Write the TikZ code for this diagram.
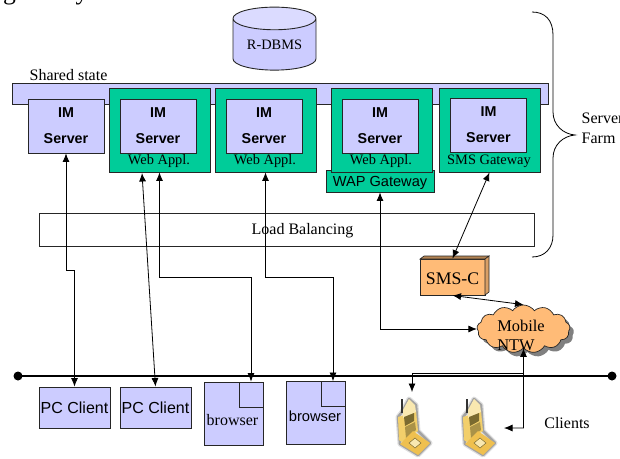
\documentclass[tikz,border=0pt]{standalone}
\usepackage{fontspec}
\setmainfont{Liberation Serif}
\newfontfamily\arialfont{Liberation Sans}
\usetikzlibrary{arrows.meta,shapes.geometric,shapes.symbols,shadows}

\definecolor{lilac}{HTML}{CCCCFF}
\definecolor{teal}{HTML}{00CC99}
\definecolor{peach}{HTML}{FFBB77}
\definecolor{phonebody}{HTML}{F2CF6B}
\definecolor{phonetop}{HTML}{F9E8B0}
\definecolor{phonekeys}{HTML}{7A6A30}
\definecolor{phoneflip}{HTML}{EFC04F}

\tikzset{
  pixbox/.style={draw=black!85,line width=0.9pt,inner sep=0pt,rectangle},
  imbox/.style={pixbox,fill=lilac,minimum width=76pt,minimum height=54pt,align=center,
    font=\arialfont\bfseries\fontsize{14.3}{26}\selectfont,
    execute at begin node={\rule{0pt}{14.5pt}}},
  appbox/.style={pixbox,fill=teal,minimum width=101pt,minimum height=84pt},
  applabel/.style={inner sep=0pt,font=\fontsize{14.4}{15}\selectfont},
  clientbox/.style={pixbox,fill=lilac,minimum width=71pt,minimum height=41pt,
    font=\arialfont\fontsize{16}{18}\selectfont},
  pagebox/.style={pixbox,fill=lilac,minimum width=59pt,minimum height=63pt},
  cornerbox/.style={pixbox,fill=lilac,minimum width=24pt,minimum height=25pt},
  plain/.style={inner sep=0pt,font=\fontsize{16}{20}\selectfont,align=left},
  link/.style={draw=black,line width=0.8pt,>={Latex[length=8.5pt,width=7pt]}},
  phone/.pic={
    \path[draw=black!40,line width=5pt,opacity=0.3,line join=round]
      (16,1) -- (23,7) -- (25,33) -- (37,45) -- (25,57) -- (7,46) -- (5,19) -- (9,14) -- cycle;
    \path[draw=black!60,line width=2.5pt,opacity=0.5,line join=round]
      (16,1) -- (23,7) -- (25,33) -- (37,45) -- (25,57) -- (7,46) -- (5,19) -- (9,14) -- cycle;
    \draw[black!80,line width=1.2pt] (9,1) -- (9,15);
    \fill[phonebody] (5,19) -- (23,13) -- (25,33) -- (9,44) -- (6,42) -- cycle;
    \fill[phonetop] (16,1) -- (22,7) -- (23,14) -- (10,20) -- (10,12) -- cycle;
    \fill[phonekeys] (11,19) -- (21,15) -- (21,23) -- (12,28) -- cycle;
    \fill[phonekeys!60!phonebody] (12,29) -- (22,24) -- (23,32) -- (13,40) -- cycle;
    \fill[phoneflip] (9,44) -- (20,33) -- (37,45) -- (25,57) -- (7,46) -- cycle;
    \draw[phonekeys,fill=phonetop,line width=0.5pt] (16,45) -- (22,40) -- (28,45) -- (22,50) -- cycle;
  }
}

\begin{document}
\begin{tikzpicture}[x=1pt,y=-1pt]
  \useasboundingbox (0,0) rectangle (620,458);

  \node[anchor=base west,inner sep=0pt] (headline) at (3,-0.5) {\fontsize{25.6}{28}\selectfont gateways to the Mobile Communication Network.};

  % database and shared state
  \node[cylinder,shape border rotate=90,draw=black!85,line width=0.9pt,aspect=0.41,
    cylinder uses custom fill,cylinder body fill=lilac,cylinder end fill=lilac!70!white,
    minimum width=83pt,minimum height=63pt,inner sep=0pt,
    font=\fontsize{14.4}{15}\selectfont] (rdbms) at (274.5,44.5) {R-DBMS};
  \node[pixbox,fill=lilac,minimum width=536pt,minimum height=21pt] (shared) at (280,93.5) {};
  \node[plain] (sharedlabel) at (68.5,75) {Shared state};

  % servers
  \node[pixbox,fill=teal,minimum width=108pt,minimum height=22pt,
    font=\arialfont\fontsize{14.6}{16}\selectfont,
    execute at begin node={\rule{0pt}{14.5pt}}] (wap) at (380,181) {WAP Gateway};
  \begin{scope}[every node/.style={appbox}]
    \node (appA) at (159.5,130) {};
    \node (appB) at (265.5,130) {};
    \node (appC) at (381.5,130) {};
    \node (appD) at (489.5,130) {};
  \end{scope}
  \begin{scope}[every node/.style={imbox}]
    \node (imA) at (66,126) {IM\\Server};
    \node (imB) at (158,126) {IM\\Server};
    \node (imC) at (264,126) {IM\\Server};
    \node (imD) at (380,126) {IM\\Server};
    \node (imE) at (488.5,125) {IM\\Server};
  \end{scope}
  \begin{scope}[every node/.style={applabel}]
    \node (labelB) at (159,161) {Web Appl.};
    \node (labelC) at (265,161) {Web Appl.};
    \node (labelD) at (381,161) {Web Appl.};
    \node (labelE) at (489,161) {SMS Gateway};
  \end{scope}

  \node[pixbox,minimum width=495pt,minimum height=33pt] (balancer) at (286.5,229.5) {};
  \node[plain] (balancerlabel) at (302.5,231) {Load Balancing};

  % farm brace
  \draw[line width=0.8pt] (532,12) .. controls (545,12) and (553,20) .. (553,35) -- (553,112)
    .. controls (553,125) and (563,134) .. (575,135)
    .. controls (563,136) and (553,145) .. (553,158) -- (553,235)
    .. controls (553,248) and (545,257) .. (532,257);
  \node[plain,anchor=north west] (farmlabel) at (581.5,113) {Server\\Farm};

  % sms centre and mobile network
  \node[pixbox,fill=peach,minimum width=65pt,minimum height=36pt,font=\fontsize{17.7}{20}\selectfont,
    execute at begin node={\rule{0pt}{16pt}}] (smsc) at (452.5,277) {SMS-C};
  \filldraw[fill=peach!70!black,draw=black!85,line width=0.6pt] (420,259) -- (424,256) -- (489,256) -- (485,259) -- cycle;
  \filldraw[fill=peach!85!black,draw=black!85,line width=0.6pt] (485,259) -- (489,256) -- (489,292) -- (485,295) -- cycle;
  \node[cloud,cloud puffs=13,cloud puff arc=110,aspect=2,draw=black!85,fill=peach,line width=0.7pt,
    minimum width=93pt,minimum height=48pt,inner sep=0pt,
    drop shadow={shadow xshift=4pt,shadow yshift=-4pt,fill=black!50,opacity=1}] (ntw) at (523.5,329) {};
  \node[plain,font=\fontsize{16.4}{19}\selectfont] (ntwlabel) at (521,335.5) {Mobile\\NTW};

  % bus and clients
  \draw[line width=1.8pt] (18,376) -- (612,376);
  \fill (18,376) circle (4.5);
  \fill (612,376) circle (4.5);

  \begin{scope}[every node/.style={clientbox}]
    \node (pcA) at (74.5,407.5) {PC Client};
    \node (pcB) at (155.5,407.5) {PC Client};
  \end{scope}
  \node[pagebox] (browserA) at (233.5,413.5) {};
  \node[pagebox] (browserB) at (315.5,413) {};
  \node[cornerbox] (cornerA) at (251,394.5) {};
  \node[cornerbox] (cornerB) at (333,394) {};
  \node[inner sep=0pt,font=\fontsize{16}{18}\selectfont] (textA) at (232.5,420) {browser};
  \node[inner sep=0pt,font=\arialfont\fontsize{14.7}{16}\selectfont] (textB) at (315,416) {browser};

  \pic (phoneA) at (393,398) {phone};
  \pic (phoneB) at (458,398) {phone};
  \node[plain] (clients) at (567,423) {Clients};

  % free ends
  \coordinate (appAin) at (142,173);
  \coordinate (phoneAin) at (412,392);
  \coordinate (phoneBin) at (504,428);
  \coordinate (ntwcorner) at (523.5,428);
  \coordinate (ntwtap) at (523.5,373);

  % connections
  \begin{scope}[every path/.style={link}]
    \draw[<->] (imA.south) -- (66,270) -- (74.5,270) -- (pcA.north);
    \draw[<->] (appAin) -- (pcB.north);
    \draw[<->] (appA.south) |- (251,277) -- (cornerA.north);
    \draw[<->] (appB.south) |- (333,277) -- (cornerB.north);
    \draw[<->] (wap.south) |- (ntw.west);
    \draw[<->] (appD.south) -- (smsc.north);
    \draw[<->] (smsc.south) -- (ntw.north);
    \draw[<->] (ntw.south) -- (ntwcorner) -- (phoneBin);
    \draw[->] (ntwtap) -| (phoneAin);
  \end{scope}
\end{tikzpicture}
\end{document}
